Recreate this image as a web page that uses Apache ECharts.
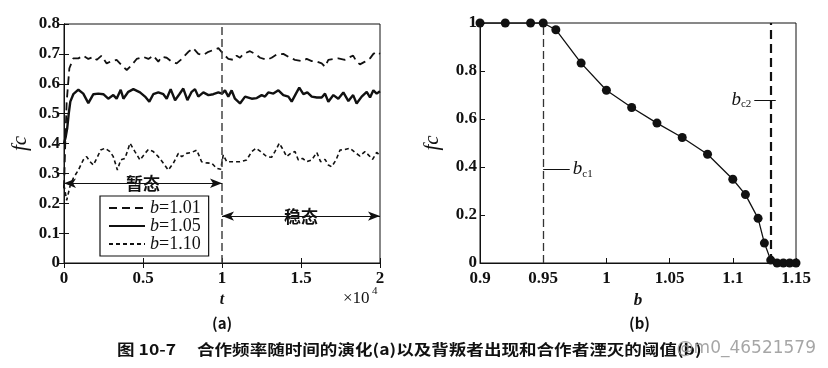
<!DOCTYPE html>
<html><head><meta charset="utf-8">
<script src="https://cdn.jsdelivr.net/npm/echarts@6/dist/echarts.min.js"></script>
<style>html,body{margin:0;padding:0;background:#fff}#c{width:828px;height:368px}</style>
</head><body><div id="c"></div>
<script>
// ---- Panel (a): f_C vs t (×10^4) ----
const t101 = [0, 0.008, 0.017, 0.034, 0.059, 0.091, 0.122, 0.154, 0.186, 0.207, 0.238, 0.27, 0.302, 0.333, 0.365, 0.397, 0.428, 0.46, 0.502, 0.534, 0.565, 0.597, 0.618, 0.65, 0.681, 0.713, 0.745, 0.787, 0.818, 0.85, 0.882, 0.914, 0.945, 0.977, 1.008, 1.04, 1.072, 1.093, 1.114, 1.135, 1.177, 1.209, 1.241, 1.283, 1.314, 1.346, 1.388, 1.42, 1.462, 1.504, 1.536, 1.568, 1.6, 1.631, 1.652, 1.673, 1.705, 1.736, 1.778, 1.8, 1.83, 1.852, 1.873, 1.905, 1.937, 1.958, 1.979, 2.0];
const v101 = [0.25, 0.40, 0.54, 0.652, 0.685, 0.685, 0.694, 0.683, 0.69, 0.68, 0.694, 0.668, 0.676, 0.68, 0.662, 0.646, 0.662, 0.683, 0.69, 0.683, 0.694, 0.674, 0.69, 0.687, 0.674, 0.668, 0.683, 0.707, 0.719, 0.70, 0.696, 0.707, 0.713, 0.719, 0.70, 0.683, 0.68, 0.694, 0.687, 0.70, 0.709, 0.70, 0.687, 0.68, 0.687, 0.698, 0.70, 0.69, 0.68, 0.676, 0.683, 0.676, 0.674, 0.668, 0.657, 0.68, 0.683, 0.685, 0.68, 0.687, 0.694, 0.674, 0.665, 0.674, 0.685, 0.70, 0.707, 0.70];

const t105 = [0, 0.01, 0.02, 0.03, 0.04, 0.059, 0.091, 0.122, 0.154, 0.186, 0.217, 0.249, 0.28, 0.312, 0.333, 0.359, 0.376, 0.407, 0.439, 0.481, 0.513, 0.54, 0.565, 0.597, 0.629, 0.65, 0.675, 0.703, 0.73, 0.755, 0.781, 0.808, 0.829, 0.85, 0.882, 0.914, 0.945, 0.977, 1.0, 1.019, 1.04, 1.061, 1.082, 1.114, 1.146, 1.188, 1.22, 1.251, 1.272, 1.293, 1.325, 1.357, 1.388, 1.42, 1.441, 1.468, 1.489, 1.515, 1.54, 1.568, 1.6, 1.631, 1.652, 1.673, 1.705, 1.736, 1.768, 1.8, 1.83, 1.852, 1.884, 1.916, 1.937, 1.958, 1.979, 2.0];
const v105 = [0.40, 0.42, 0.45, 0.50, 0.54, 0.565, 0.58, 0.567, 0.535, 0.565, 0.567, 0.565, 0.55, 0.562, 0.55, 0.58, 0.55, 0.573, 0.582, 0.571, 0.557, 0.54, 0.565, 0.571, 0.565, 0.55, 0.582, 0.545, 0.565, 0.584, 0.545, 0.573, 0.582, 0.557, 0.571, 0.562, 0.565, 0.571, 0.567, 0.578, 0.557, 0.578, 0.55, 0.534, 0.557, 0.55, 0.552, 0.562, 0.557, 0.571, 0.567, 0.578, 0.562, 0.557, 0.54, 0.567, 0.587, 0.565, 0.571, 0.557, 0.554, 0.554, 0.567, 0.54, 0.562, 0.55, 0.571, 0.542, 0.562, 0.534, 0.557, 0.573, 0.554, 0.578, 0.567, 0.575];

const t110 = [0, 0.006, 0.017, 0.038, 0.059, 0.091, 0.122, 0.143, 0.165, 0.186, 0.207, 0.232, 0.259, 0.291, 0.312, 0.338, 0.359, 0.386, 0.418, 0.449, 0.481, 0.513, 0.534, 0.565, 0.597, 0.629, 0.66, 0.692, 0.724, 0.745, 0.776, 0.808, 0.84, 0.871, 0.903, 0.935, 0.966, 0.992, 1.008, 1.03, 1.072, 1.114, 1.156, 1.188, 1.215, 1.245, 1.283, 1.314, 1.335, 1.363, 1.388, 1.409, 1.435, 1.462, 1.483, 1.51, 1.536, 1.568, 1.6, 1.624, 1.652, 1.673, 1.694, 1.722, 1.747, 1.778, 1.81, 1.842, 1.873, 1.905, 1.926, 1.953, 1.979, 2.0];
const v110 = [0.26, 0.255, 0.21, 0.257, 0.284, 0.311, 0.345, 0.356, 0.339, 0.328, 0.35, 0.378, 0.384, 0.373, 0.356, 0.311, 0.345, 0.35, 0.401, 0.373, 0.345, 0.367, 0.38, 0.373, 0.356, 0.334, 0.311, 0.334, 0.367, 0.356, 0.367, 0.37, 0.378, 0.339, 0.335, 0.334, 0.317, 0.314, 0.362, 0.339, 0.339, 0.339, 0.345, 0.373, 0.384, 0.373, 0.356, 0.354, 0.373, 0.401, 0.378, 0.356, 0.367, 0.373, 0.345, 0.35, 0.339, 0.345, 0.37, 0.339, 0.347, 0.328, 0.322, 0.345, 0.378, 0.38, 0.384, 0.37, 0.358, 0.373, 0.362, 0.347, 0.37, 0.36];

const seriesNames = ['b=1.01', 'b=1.05', 'b=1.10'];
const tSplit = 1;                 // transient / steady boundary (×10^4)
const transientY = 0.267, steadyY = 0.157;

// ---- Panel (b): f_C vs b ----
const bVals  = [0.90, 0.92, 0.94, 0.95, 0.96, 0.98, 1.00, 1.02, 1.04, 1.06, 1.08, 1.10, 1.11, 1.12, 1.125, 1.13, 1.135, 1.14, 1.145, 1.15];
const fcVals = [1, 1, 1, 1, 0.972, 0.833, 0.72, 0.648, 0.583, 0.523, 0.453, 0.349, 0.285, 0.186, 0.083, 0.012, 0, 0, 0, 0];
const bc1 = 0.95, bc2 = 1.134;

const zip = (a, b) => a.map((x, i) => [x, b[i]]);

const SERIF = '"Liberation Serif","DejaVu Serif",serif';
const CJK = '"Noto Sans CJK SC",sans-serif';
const axisLbl = {fontFamily: 'Liberation Serif', fontWeight: 'bold', fontSize: 17, color: '#111'};
const blackLine = {lineStyle: {color: '#111', width: 1}};
const subRich = {
  b: {fontFamily: SERIF, fontStyle: 'italic', fontSize: 19, color: '#111', lineHeight: 20},
  s: {fontFamily: SERIF, fontSize: 11, color: '#111', lineHeight: 20, verticalAlign: 'bottom', padding: [9, 0, 0, 0]}
};

const chart = echarts.init(document.getElementById('c'));
const option = {
  animation: false,
  backgroundColor: '#fff',
  grid: [
    {left: 64, right: 448, top: 24, bottom: 105, show: true, borderColor: '#111', borderWidth: 1},
    {left: 480, right: 32, top: 23, bottom: 105, show: true, borderColor: '#111', borderWidth: 1}
  ],
  xAxis: [
    {type: 'value', gridIndex: 0, min: 0, max: 2, interval: 0.5, axisLine: blackLine,
     axisTick: {inside: true, length: 5, lineStyle: {color: '#111'}}, splitLine: {show: false},
     axisLabel: Object.assign({margin: 7}, axisLbl),
     name: 't', nameLocation: 'middle', nameGap: 22,
     nameTextStyle: {fontFamily: SERIF, fontStyle: 'italic', fontWeight: 'bold', fontSize: 16, color: '#111'}},
    {type: 'value', gridIndex: 1, min: 0.9, max: 1.15, interval: 0.05, axisLine: blackLine,
     axisTick: {inside: true, length: 5, lineStyle: {color: '#111'}}, splitLine: {show: false},
     axisLabel: Object.assign({margin: 7}, axisLbl),
     name: 'b', nameLocation: 'middle', nameGap: 22,
     nameTextStyle: {fontFamily: SERIF, fontStyle: 'italic', fontWeight: 'bold', fontSize: 17, color: '#111'}},
    {type: 'value', gridIndex: 0, position: 'top', min: 0, max: 2, interval: 0.5, axisLine: blackLine,
     axisTick: {inside: true, length: 5, lineStyle: {color: '#111'}}, axisLabel: {show: false}, splitLine: {show: false}}
  ],
  yAxis: [
    {type: 'value', gridIndex: 0, min: 0, max: 0.8, interval: 0.1, axisLine: blackLine,
     axisTick: {inside: true, length: 5, lineStyle: {color: '#111'}}, splitLine: {show: false},
     axisLabel: Object.assign({margin: 4}, axisLbl),
     name: 'fc', nameLocation: 'middle', nameGap: 33, nameRotate: 90,
     nameTextStyle: {fontFamily: SERIF, fontStyle: 'italic', fontSize: 21, color: '#111'}},
    {type: 'value', gridIndex: 1, min: 0, max: 1, interval: 0.2, axisLine: blackLine,
     axisTick: {inside: true, length: 5, lineStyle: {color: '#111'}}, splitLine: {show: false},
     axisLabel: Object.assign({margin: 3}, axisLbl),
     name: 'fc', nameLocation: 'middle', nameGap: 37, nameRotate: 90,
     nameTextStyle: {fontFamily: SERIF, fontStyle: 'italic', fontSize: 21, color: '#111'}},
    {type: 'value', gridIndex: 0, position: 'right', min: 0, max: 0.8, interval: 0.1, axisLine: blackLine,
     axisTick: {inside: true, length: 5, lineStyle: {color: '#111'}}, axisLabel: {show: false}, splitLine: {show: false}}
  ],
  legend: {
    data: seriesNames, left: 100, top: 196, orient: 'vertical', itemGap: 0, itemWidth: 36, itemHeight: 12,
    padding: [3, 8, 3, 8], borderColor: '#111', borderWidth: 1.2, backgroundColor: '#fff',
    itemStyle: {opacity: 0},
    formatter: n => '{i|b}{n|' + n.slice(1) + '}',
    textStyle: {rich: {
      i: {fontFamily: SERIF, fontStyle: 'italic', fontSize: 18, color: '#111', lineHeight: 18},
      n: {fontFamily: SERIF, fontSize: 18, color: '#111', lineHeight: 18}
    }}
  },
  series: [
    {name: seriesNames[0], type: 'line', xAxisIndex: 0, yAxisIndex: 0, data: zip(t101, v101), showSymbol: false, symbol: 'none',
     lineStyle: {color: '#111', width: 1.8, type: [8, 5]}, itemStyle: {color: '#111'}},
    {name: seriesNames[1], type: 'line', xAxisIndex: 0, yAxisIndex: 0, data: zip(t105, v105), showSymbol: false, symbol: 'none',
     lineStyle: {color: '#111', width: 2.4}, itemStyle: {color: '#111'},
     markLine: {silent: true, animation: false, symbol: ['none', 'none'], label: {show: false},
       data: [{xAxis: tSplit, lineStyle: {type: [8, 4], width: 1.5, color: '#444'}}]}},
    {name: seriesNames[2], type: 'line', xAxisIndex: 0, yAxisIndex: 0, data: zip(t110, v110), showSymbol: false, symbol: 'none',
     lineStyle: {color: '#111', width: 1.6, type: [4, 3]}, itemStyle: {color: '#111'},
     markLine: {
       silent: true, animation: false, symbol: ['arrow', 'arrow'], symbolSize: [7, 12], label: {show: false},
       lineStyle: {type: 'solid', width: 1, color: '#111'},
       data: [
         [{coord: [0, transientY]}, {coord: [tSplit, transientY]}],
         [{coord: [tSplit, steadyY]}, {coord: [2, steadyY]}]
       ]
     }},
    {name: 'fcb', type: 'line', xAxisIndex: 1, yAxisIndex: 1, data: zip(bVals, fcVals),
     symbol: 'circle', symbolSize: 9, lineStyle: {color: '#111', width: 1.3}, itemStyle: {color: '#111'},
     markLine: {
       silent: true, animation: false, symbol: ['none', 'none'],
       data: [
         {xAxis: bc1, lineStyle: {type: [8, 4], width: 1.3, color: '#333'}, label: {show: false}},
         {xAxis: bc2, lineStyle: {type: [9, 5], width: 2.2, color: '#111'}, label: {show: false}},
         [{coord: [bc1, 0.39]}, {coord: [0.971, 0.39], lineStyle: {type: 'solid', width: 1, color: '#111'},
           label: {show: true, position: 'end', distance: 3, formatter: '{b|b}{s|c1}', rich: subRich}}],
         [{coord: [1.117, 0.68]}, {coord: [bc2, 0.68], lineStyle: {type: 'solid', width: 1, color: '#111'},
           label: {show: true, position: 'start', distance: 3, formatter: '{b|b}{s|c2}', rich: subRich}}]
       ]
     }}
  ]
};
chart.setOption(option);

// text labels on the arrows, placed through the axis scales
const pT = chart.convertToPixel({gridIndex: 0}, [tSplit / 2, transientY]);
const pS = chart.convertToPixel({gridIndex: 0}, [(tSplit + 2) / 2, steadyY]);
const tagStyle = {font: 'bold 17px ' + CJK, fill: '#111', align: 'center', verticalAlign: 'middle',
                  backgroundColor: '#fff', padding: [0, 8]};
chart.setOption({graphic: [
  {type: 'text', x: pT[0], y: pT[1], style: Object.assign({text: '暂态'}, tagStyle)},
  {type: 'text', x: pS[0], y: pS[1], style: Object.assign({text: '稳态'}, tagStyle)},
  {type: 'group', left: 343, top: 286, children: [
    {type: 'text', x: 0, y: 4, style: {text: '×10', font: '17px ' + SERIF, fill: '#111'}},
    {type: 'text', x: 29, y: 0, style: {text: '4', font: '11px ' + SERIF, fill: '#111'}}
  ]},
  {type: 'text', left: 212, top: 316, style: {text: '(a)', font: 'bold 15px ' + CJK, fill: '#111'}},
  {type: 'text', left: 629, top: 316, style: {text: '(b)', font: 'bold 15px ' + CJK, fill: '#111'}},
  {type: 'text', x: 117, y: 342, scaleX: 1.17, style: {text: '图 10-7', font: 'bold 15px ' + CJK, fill: '#111'}},
  {type: 'text', x: 197, y: 342, scaleX: 1.17, style: {text: '合作频率随时间的演化(a)以及背叛者出现和合作者湮灭的阈值(b)', font: 'bold 15px ' + CJK, fill: '#111'}},
  {type: 'text', right: 12, top: 340, style: {text: '@m0_46521579', font: '17px "DejaVu Sans",sans-serif', fill: 'rgba(150,150,150,0.85)'}}
]});
</script></body></html>
